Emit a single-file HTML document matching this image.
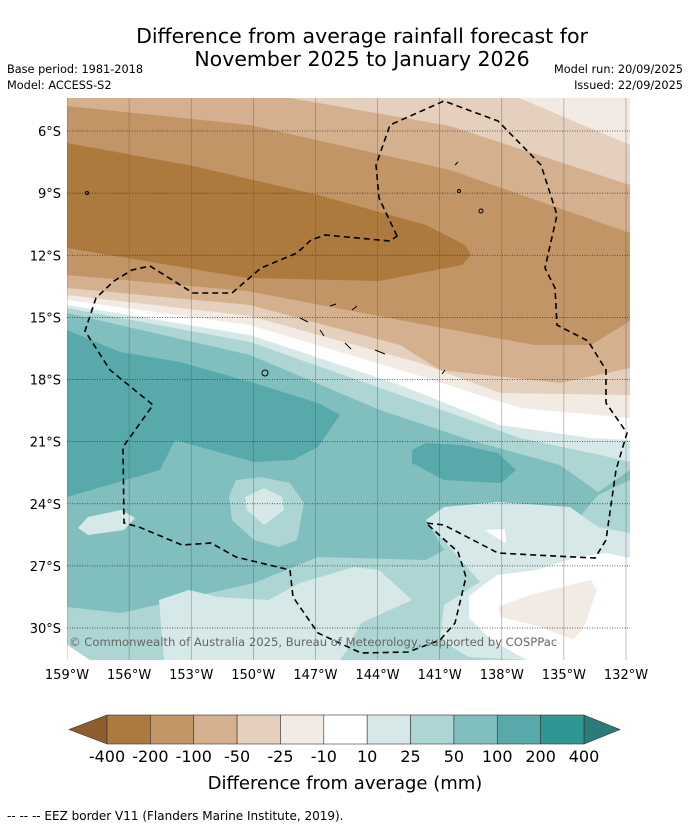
<!DOCTYPE html>
<html><head><meta charset="utf-8"><style>
body{margin:0;background:#fff;width:690px;height:827px;overflow:hidden;font-family:"DejaVu Sans","Liberation Sans",sans-serif}
svg{position:absolute;left:0;top:0}
svg text{font-family:"DejaVu Sans","Liberation Sans",sans-serif}
</style></head><body>
<svg id="s" width="690" height="827" viewBox="0 0 690 827">
<defs><clipPath id="mc"><rect x="67" y="98" width="563" height="562"/></clipPath></defs>
<text x="362" y="43" text-anchor="middle" font-size="20.5" fill="#000">Difference from average rainfall forecast for</text>
<text x="362" y="66" text-anchor="middle" font-size="20.5" fill="#000">November 2025 to January 2026</text>
<text x="7" y="73" font-size="11.3">Base period: 1981-2018</text>
<text x="7" y="89" font-size="11.3">Model: ACCESS-S2</text>
<text x="683" y="73" font-size="11.3" text-anchor="end">Model run: 20/09/2025</text>
<text x="683" y="89" font-size="11.3" text-anchor="end">Issued: 22/09/2025</text>
<g clip-path="url(#mc)">
<rect x="67" y="98" width="563" height="562" fill="#acd5d4"/>
<path fill="#80bfbe" d="M67,98 L630,98 L630,480 L598,495 L577,520 L462,513 L426,520 L444,550 L426,560 L318,557 L254,583 L121,613 L67,607 Z"/>
<path fill="#acd5d4" d="M67,98 L630,98 L630,470 L598,492 L560,465 L470,440 L380,410 L250,355 L67,313 Z"/>
<path fill="#d6e9e8" d="M67,98 L630,98 L630,462 L600,455 L520,438 L400,395 L250,342 L67,308 Z"/>
<path fill="#ffffff" d="M67,98 L630,98 L630,440 L590,438 L500,425 L400,385 L250,335 L67,305 Z"/>
<path fill="#f1ebe3" d="M67,98 L630,98 L630,418 L520,408 L420,376 L250,325 L67,300 Z"/>
<path fill="#e4d0bd" d="M67,98 L630,98 L630,395 L500,393 L420,363 L250,316 L67,295 Z"/>
<path fill="#d4b08e" d="M67,98 L630,98 L630,368 L560,383 L440,370 L400,345 L250,305 L67,288 Z"/>
<path fill="#c29566" d="M67,98 L630,98 L630,321 L591,345 L534,345 L426,325 L247,291 L67,275 Z"/>
<path fill="#ad7a3e" d="M67,143 L193,166 L318,195 L426,225 L465,245 L471,255 L462,265 L379,281 L247,278 L67,248 Z"/>
<path fill="#d4b08e" d="M67,98 L630,98 L630,233 L450,170 L250,125 L67,106 Z"/>
<path fill="#e4d0bd" d="M290,98 L630,98 L630,185 L450,126 Z"/>
<path fill="#f1ebe3" d="M519,98 L630,98 L630,145 Z"/>
<path fill="#58a9a9" d="M67,330 L120,352 L180,362 L254,383 L318,403 L340,415 L318,447 L293,460 L254,462 L175,440 L160,470 L67,497 Z"/>
<path fill="#58a9a9" d="M412,450 L426,443 L462,445 L498,453 L516,470 L501,483 L444,480 L412,463 Z"/>
<path fill="#d6e9e8" d="M78,528 L88,517 L121,510 L135,518 L124,530 L88,535 Z"/>
<path fill="#acd5d4" d="M229,497 L236,480 L261,477 L290,483 L304,503 L297,540 L279,547 L254,540 L232,520 Z"/>
<path fill="#d6e9e8" d="M245,497 L264,488 L282,497 L284,510 L264,525 L247,510 Z"/>
<path fill="#d6e9e8" d="M159,600 L189,590 L218,597 L268,600 L300,583 L354,567 L379,570 L412,600 L390,610 L361,623 L347,650 L340,660 L164,660 Z"/>
<path fill="#d6e9e8" d="M426,520 L444,507 L498,502 L570,507 L598,527 L630,533 L630,660 L527,660 L469,657 L440,640 L444,605 L480,582 Z"/>
<path fill="#ffffff" d="M485,530 L505,529 L506,543 L497,538 Z"/>
<path fill="#ffffff" d="M537,570 L577,557 L606,553 L630,558 L630,660 L527,660 L491,640 L469,618 L469,596 L497,575 Z"/>
<path fill="#f1ebe3" d="M498,607 L530,595 L591,580 L597,590 L584,627 L573,640 L541,627 L501,617 Z"/>
<path fill="#ffffff" d="M67,645 L90,660 L67,660 Z"/>
<g id="grid"></g>
<path fill="none" stroke="#000" stroke-width="1.6" stroke-dasharray="6,4" d="M397,236 L379,198 L376,165 L390,125 L444,101 L498,121 L541,165 L557,215 L545,268 L555,288 L557,325 L588,341 L606,370 L606,403 L627,433 L616,470 L606,540 L595,558 L534,555 L498,553 L444,525 L426,523 L458,552 L466,577 L455,623 L440,640 L408,652 L361,653 L318,633 L293,597 L290,570 L236,557 L211,543 L182,545 L139,527 L124,523 L123,447 L153,405 L110,370 L85,331 L96,298 L114,281 L132,270 L150,266 L193,293 L232,293 L261,268 L297,253 L311,240 L325,235 L390,241 Z"/>
<g fill="none" stroke="#000" stroke-width="1">
<circle cx="87" cy="193" r="1.5"/><circle cx="265" cy="373" r="3"/><circle cx="459" cy="191" r="1.5"/><circle cx="481" cy="211" r="2"/>
<path d="M330,306 l6,-2 M352,310 l5,-4 M300,318 l8,4 M320,330 l4,6 M345,343 l6,6 M375,350 l10,4 M442,374 l3,-4 M455,165 l3,-3"/>
</g>
<text x="69" y="646" font-size="11.6" fill="#666">© Commonwealth of Australia 2025, Bureau of Meteorology, supported by COSPPac</text>
</g>
<g id="axes"></g>
<g id="cbar"></g>
<text x="345" y="789" text-anchor="middle" font-size="18">Difference from average (mm)</text>
<text x="7" y="820" font-size="12">-- -- -- EEZ border V11 (Flanders Marine Institute, 2019).</text>
</svg>
<script>
const lonTicks=[159,156,153,150,147,144,141,138,135,132];
const latTicks=[6,9,12,15,18,21,24,27,30];
const levels=["-400","-200","-100","-50","-25","-10","10","25","50","100","200","400"];
const levelColors=["#ad7a3e","#c29566","#d4b08e","#e4d0bd","#f1ebe3","#ffffff","#d6e9e8","#acd5d4","#80bfbe","#58a9a9","#2e9693"];
const NS="http://www.w3.org/2000/svg";
function lonX(l){return 67+(159-l)*(626-67)/27;}
function latY(l){return 131+(l-6)*(628-131)/24;}
function mk(t,a,p){const e=document.createElementNS(NS,t);for(const k in a)e.setAttribute(k,a[k]);p.appendChild(e);return e;}
const g=document.getElementById('grid'),ax=document.getElementById('axes'),cb=document.getElementById('cbar');
lonTicks.forEach(l=>{const x=lonX(l);
 const ln=mk('line',{x1:x,y1:98,x2:x,y2:660,stroke:'#555','stroke-width':0.6,'stroke-opacity':0.6},g);
 
 
 const t=mk('text',{x:x,y:679,'text-anchor':'middle','font-size':13},ax);t.textContent=l+'°W';
 
 });
latTicks.forEach(l=>{const y=latY(l);
 const ln=mk('line',{x1:67,y1:y,x2:630,y2:y,stroke:'#333','stroke-width':0.8,'stroke-dasharray':'1,1.5'},g);
 
 
 const t=mk('text',{x:61,y:y+5,'text-anchor':'end','font-size':13},ax);t.textContent=l+'°S';
 
 });
const x0=107,x1=584,y0=715,y1=744,w=(x1-x0)/levelColors.length;
const la=mk('path',{d:`M${x0},${y0} L69,${(y0+y1)/2} L${x0},${y1} Z`,fill:'#8f5c2e',stroke:'#333','stroke-width':0.6},cb);


const ra=mk('path',{d:`M${x1},${y0} L620,${(y0+y1)/2} L${x1},${y1} Z`,fill:'#2b7b78',stroke:'#333','stroke-width':0.6},cb);


levelColors.forEach((c,i)=>{const r=mk('rect',{x:x0+i*w,y:y0,width:w,height:y1-y0,fill:c,stroke:'#333','stroke-width':0.6},cb);
 
 });
levels.forEach((v,i)=>{const t=mk('text',{x:x0+i*w,y:762,'text-anchor':'middle','font-size':16},cb);t.textContent=v;
 
 });
</script>
</body></html>
